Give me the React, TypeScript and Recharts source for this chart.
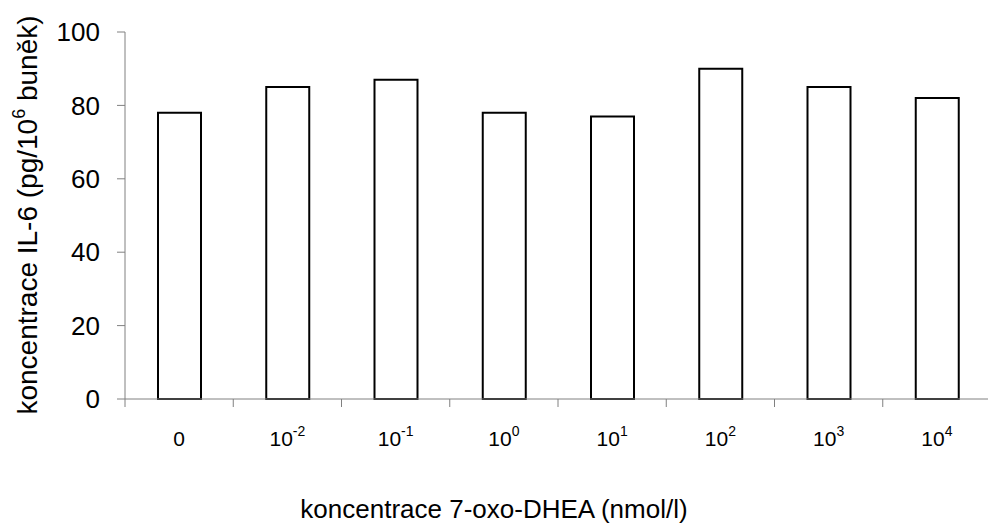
import { BarChart, Bar, XAxis, YAxis, Label } from 'recharts';

const concentrations = ['0', '10^-2', '10^-1', '10^0', '10^1', '10^2', '10^3', '10^4'];
const il6 = [78, 85, 87, 78, 77, 90, 85, 82];
const yTicks = [0, 20, 40, 60, 80, 100];

const data = concentrations.map((c, i) => ({ conc: c, il6: il6[i] }));

const FONT = '"Liberation Sans", Arial, sans-serif';
const AXIS_GREY = '#808080';

function ConcTick(props: any) {
  const { x, y, payload, width, visibleTicksCount, index } = props;
  const half = payload.offset ?? width / visibleTicksCount / 2;
  const [base, exp] = String(payload.value).split('^');
  return (
    <g>
      <line x1={x - half} y1={y} x2={x - half} y2={y + 8} stroke={AXIS_GREY} strokeWidth={1} />
      {index === visibleTicksCount - 1 && (
        <line x1={x + half} y1={y} x2={x + half} y2={y + 8} stroke={AXIS_GREY} strokeWidth={1} />
      )}
      <text x={x} y={y + 47} textAnchor="middle" fontSize={21} fontFamily={FONT} fill="#000">
        {base}
        {exp && (
          <tspan fontSize={14} dy={-10}>
            {exp}
          </tspan>
        )}
      </text>
    </g>
  );
}

export default function App() {
  return (
    <div
      style={{
        position: 'absolute',
        left: 0,
        top: 0,
        width: 988,
        height: 524,
        overflow: 'hidden',
        background: '#fff',
      }}
    >
      <BarChart width={1000} height={524} data={data} margin={{ top: 32, right: 9, bottom: 0, left: 0 }}>
        <XAxis
          dataKey="conc"
          height={125}
          axisLine={{ stroke: AXIS_GREY }}
          tickLine={false}
          tickSize={0}
          tickMargin={0}
          interval={0}
          tick={<ConcTick />}
        >
          <Label
            content={() => (
              <text x={494} y={518} textAnchor="middle" fontSize={26} fontFamily={FONT} fill="#000">
                koncentrace 7-oxo-DHEA (nmol/l)
              </text>
            )}
          />
        </XAxis>
        <YAxis
          width={125}
          domain={[0, 100]}
          ticks={yTicks}
          interval={0}
          axisLine={{ stroke: AXIS_GREY }}
          tickLine={{ stroke: AXIS_GREY }}
          tickSize={8}
          tickMargin={17}
          tick={{ fill: '#000', fontSize: 26, fontFamily: FONT }}
        >
          <Label
            content={() => (
              <text
                x={37}
                y={215}
                transform="rotate(-90, 37, 215)"
                textAnchor="middle"
                fontSize={28}
                fontFamily={FONT}
                fill="#000"
              >
                koncentrace IL-6 (pg/10
                <tspan fontSize={18} dy={-12}>6</tspan>
                <tspan dy={12}> buněk)</tspan>
              </text>
            )}
          />
        </YAxis>
        <Bar
          dataKey="il6"
          barSize={43}
          fill="#fff"
          stroke="#000"
          strokeWidth={2}
          isAnimationActive={false}
        />
      </BarChart>
    </div>
  );
}
